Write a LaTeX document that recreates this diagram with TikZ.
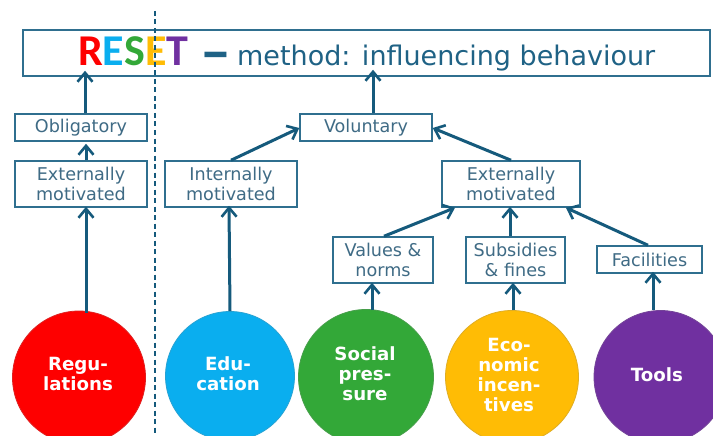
\documentclass[tikz,border=0pt]{standalone}
\usepackage{fontspec}
\setmainfont{DejaVu Sans}
\newfontfamily\titlefont{Carlito}
\usetikzlibrary{arrows.meta}
\definecolor{edge}{HTML}{2F6F8F}
\definecolor{arr}{HTML}{155A7C}
\definecolor{txt}{HTML}{3F6B85}
\definecolor{ttl}{HTML}{1F6285}
\tikzset{
 lbl/.style={draw=edge,line width=1.5pt,fill=white,inner sep=0pt,align=center,text=txt,font=\fontsize{17.6}{19.5}\selectfont},
 circ/.style={circle,draw=#1!75!gray,line width=.8pt,fill=#1,inner sep=0pt,minimum size=133pt,align=center,text=white,font=\fontsize{18.2}{20}\selectfont\bfseries},
 link/.style={draw=arr,line width=3pt,-{Straight Barb[length=9pt,width=15pt,line width=2.6pt]}},
}
\definecolor{cred}{HTML}{FE0000}
\definecolor{cblue}{HTML}{0AAEEF}
\definecolor{cgreen}{HTML}{33A838}
\definecolor{cyel}{HTML}{FFBC05}
\definecolor{cpur}{HTML}{7030A0}
\begin{document}
\begin{tikzpicture}[x=1pt,y=-1pt]
\clip (0,0) rectangle (713,436);
\fill[white] (0,0) rectangle (713,436);
\node[lbl,minimum width=687pt,minimum height=46pt] (title) at (366.5,53) {};
\node[anchor=base west,inner sep=0pt,font=\titlefont\fontsize{44}{44}\selectfont\bfseries] (reset) at (78,66) {\textcolor{cred}{R}\textcolor{cblue}{E}\textcolor{cgreen}{S}\textcolor{cyel}{E}\textcolor{cpur}{T}};
\node[anchor=base west,inner sep=0pt,text=ttl,font=\titlefont\fontsize{62}{62}\selectfont\bfseries] (dash) at (200,73) {–};
\node[anchor=base west,inner sep=0pt,text=ttl,font=\fontsize{27}{27}\selectfont] (tail) at (237,66) {method: influencing behaviour};
\draw[draw=arr,line width=1.3pt,dash pattern=on 5pt off 3.5pt] (155,11) coordinate (dtop) -- (155,436) coordinate (dbot);
\node[lbl,minimum width=132pt,minimum height=27pt] (oblig) at (81,127.5) {Obligatory};
\node[lbl,minimum width=132pt,minimum height=46pt] (extl) at (81,184) {Externally\\motivated};
\node[lbl,minimum width=132pt,minimum height=46pt] (intl) at (231,184) {Internally\\motivated};
\node[lbl,minimum width=132pt,minimum height=27pt] (vol) at (366,127.5) {Voluntary};
\node[lbl,minimum width=138pt,minimum height=46pt] (extr) at (511,184) {Externally\\motivated};
\node[lbl,minimum width=100pt,minimum height=46pt] (vals) at (383,260) {Values \&\\norms};
\node[lbl,minimum width=99pt,minimum height=46pt] (subs) at (515.5,260) {Subsidies\\\& fines};
\node[lbl,minimum width=105pt,minimum height=27pt] (fac) at (649.5,259.5) {Facilities};
\node[circ=cred] (reg) at (79,377.5) {};
\node[circ=cblue,minimum size=129pt] (edu) at (230,376) {};
\node[circ=cgreen,minimum size=135pt] (soc) at (366,377) {};
\node[circ=cyel] (eco) at (512,377) {};
\node[circ=cpur] (tools) at (660.5,377) {};
\tikzset{ctext/.style={inner sep=0pt,align=center,text=white,font=\fontsize{18.2}{20}\selectfont\bfseries}}
\node[ctext] (regt) at (78,374) {Regu-\\lations};
\node[ctext] (edut) at (228,374) {Edu-\\cation};
\node[ctext] (soct) at (365,374) {Social\\pres-\\sure};
\node[ctext] (ecot) at (509,375) {Eco-\\nomic\\incen-\\tives};
\node[ctext] (toolt) at (657,375) {Tools};
\draw[link] ([xshift=4pt]oblig.north) -- ([xshift=-281.5pt,yshift=6pt]title.south);
\draw[link] ([xshift=5pt]extl.north) -- ([xshift=5pt,yshift=-2pt]oblig.south);
\draw[link] ([xshift=7pt,yshift=-2pt]reg.north) -- ([xshift=5pt,yshift=1pt]extl.south);
\draw[link] (edu.north) -- ([xshift=-2pt,yshift=2pt]intl.south);
\draw[link] (intl.north) -- ([yshift=-.5pt]vol.west);
\draw[link] ([xshift=7pt]vol.north) -- ([xshift=6.5pt,yshift=7pt]title.south);
\draw[link] (extr.north) -- ([yshift=-.5pt]vol.east);
\draw[link] ([xshift=1pt]vals.north) -- ([xshift=-56pt]extr.south);
\draw[link] ([xshift=-5.5pt]subs.north) -- ([xshift=-1pt,yshift=1pt]extr.south);
\draw[link] ([xshift=-1.5pt]fac.north) -- ([xshift=55pt]extr.south);
\draw[link] ([xshift=6pt,yshift=-1pt]soc.north) -- ([xshift=-11pt,yshift=1pt]vals.south);
\draw[link] ([xshift=1pt]eco.north) -- ([xshift=-2.5pt,yshift=1pt]subs.south);
\draw[link] ([xshift=-7.5pt]tools.north) -- ([xshift=3.5pt,yshift=2pt]fac.south);
\end{tikzpicture}
\end{document}
